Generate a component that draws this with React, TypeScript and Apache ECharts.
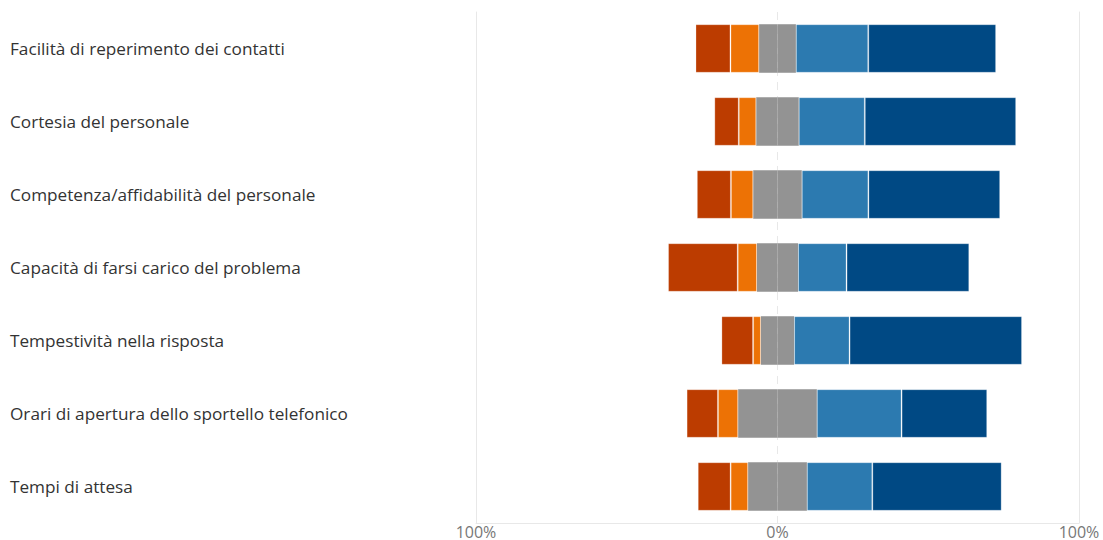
import React, { useEffect, useRef } from "react";
import * as echarts from "echarts";

const categories = [
  "Facilità di reperimento dei contatti",
  "Cortesia del personale",
  "Competenza/affidabilità del personale",
  "Capacità di farsi carico del problema",
  "Tempestività nella risposta",
  "Orari di apertura dello sportello telefonico",
  "Tempi di attesa",
];

const molto_insoddisfatto = [11.6, 8.1, 11.3, 23.1, 10.5, 10.4, 10.9];
const insoddisfatto = [9.5, 5.8, 7.4, 6.4, 2.6, 6.7, 5.8];
const neutrale = [12.2, 14.1, 16.1, 13.6, 11.0, 26.1, 19.5];
const soddisfatto = [24.0, 21.9, 22.1, 16.1, 18.4, 28.1, 21.7];
const molto_soddisfatto = [42.4, 50.2, 43.7, 40.7, 57.2, 28.4, 42.9];

const xTicks = [-100, 0, 100];

export default function App() {
  const ref = useRef<HTMLDivElement>(null);
  useEffect(() => {
    if (!ref.current) return;
    const chart = echarts.init(ref.current, undefined, { renderer: "svg" });
    const font = "'Open Sans', 'Noto Sans', sans-serif";
    const edge = { borderColor: "rgba(255,255,255,0.25)", borderWidth: 1 };
    const common = {
      type: "bar",
      stack: "total",
      barWidth: "66.5%",
      silent: true,
    };
    chart.setOption({
      animation: false,
      grid: { left: 476, right: 24, top: 12, bottom: 14, containLabel: false },
      xAxis: {
        type: "value",
        min: xTicks[0],
        max: xTicks[xTicks.length - 1],
        interval: 100,
        axisLine: { show: true, lineStyle: { color: "#e8e8e8", width: 1 } },
        axisTick: { show: false },
        splitLine: { show: true, lineStyle: { color: "#e8e8e8", type: [8, 6], width: 1 } },
        axisLabel: {
          formatter: (v: number) => Math.abs(v) + "%",
          color: "#777777",
          fontSize: 16,
          fontFamily: font,
          margin: 1,
        },
      },
      yAxis: [
        {
          type: "category",
          data: categories,
          inverse: true,
          position: "left",
          axisLine: { show: true, onZero: false, lineStyle: { color: "#e8e8e8" } },
          axisTick: { show: false },
          axisLabel: {
            align: "left",
            margin: 466,
            color: "#333333",
            fontSize: 17.2,
            fontFamily: font,
          },
        },
        {
          type: "category",
          data: categories,
          inverse: true,
          position: "right",
          axisLine: { show: true, onZero: false, lineStyle: { color: "#e8e8e8" } },
          axisTick: { show: false },
          axisLabel: { show: false },
        },
      ],
      series: [
        {
          ...common,
          name: "Neutrale (-)",
          data: neutrale.map((v) => -v / 2),
          itemStyle: { color: "#939393" },
        },
        {
          ...common,
          name: "Insoddisfatto",
          data: insoddisfatto.map((v) => -v),
          itemStyle: { color: "#ED7205", ...edge },
        },
        {
          ...common,
          name: "Molto insoddisfatto",
          data: molto_insoddisfatto.map((v) => -v),
          itemStyle: { color: "#BC3C00", ...edge },
        },
        {
          ...common,
          name: "Neutrale (+)",
          data: neutrale.map((v) => v / 2),
          itemStyle: { color: "#939393" },
        },
        {
          ...common,
          name: "Soddisfatto",
          data: soddisfatto,
          itemStyle: { color: "#2C7AB0", ...edge },
        },
        {
          ...common,
          name: "Molto soddisfatto",
          data: molto_soddisfatto,
          itemStyle: { color: "#004984", ...edge },
        },
      ],
    });
    return () => chart.dispose();
  }, []);
  return (
    <div
      ref={ref}
      style={{ position: "fixed", left: 0, top: 0, width: 1103, height: 540, background: "#fff" }}
    />
  );
}
